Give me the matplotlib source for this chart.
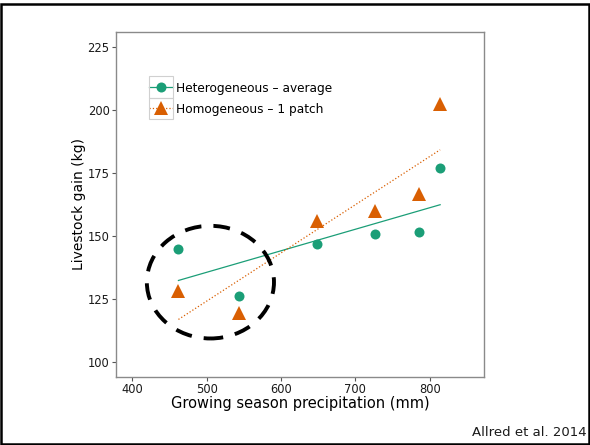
import numpy as np
import matplotlib.pyplot as plt
from matplotlib.lines import Line2D
from matplotlib.patches import Ellipse, Rectangle

plt.rcParams['font.family'] = ['DejaVu Sans']

precip = [462, 544, 648, 726, 786, 814]
hetero_gain = [144.7, 126.2, 146.8, 150.6, 151.6, 177.1]
homo_gain = [128.2, 119.2, 155.8, 160.0, 166.6, 202.4]
labels = ['Heterogeneous \u2013 average', 'Homogeneous \u2013 1 patch']
x_ticks = [400, 500, 600, 700, 800]
y_ticks = [100, 125, 150, 175, 200, 225]

green = '#1b9e77'
orange = '#d95f02'

fig = plt.figure(figsize=(5.9, 4.45), dpi=100)
ax = fig.add_axes([116 / 590, 1 - 376.7 / 445, 368 / 590, 345 / 445])

x = np.array(precip, dtype=float)
xs = np.array([x.min(), x.max()])
for ys, col, ls in [(hetero_gain, green, '-'), (homo_gain, orange, ':')]:
    k, b = np.polyfit(x, ys, 1)
    ax.plot(xs, k * xs + b, color=col, lw=0.9, linestyle=ls, zorder=2)

ax.plot(precip, hetero_gain, 'o', color=green, ms=7.2, mew=0, zorder=3)
ax.plot(precip, homo_gain, '^', color=orange, ms=9.6, mew=0, zorder=3)

# dashed circle round the dry years
ax.add_patch(Ellipse((505, 131.6), 171, 44.8, fill=False, edgecolor='black',
                     lw=2.8, linestyle=(1, (4.3, 3.1)), zorder=4))

ax.set_xlim(378, 873)
ax.set_ylim(94, 231.2)
ax.set_xticks(x_ticks)
ax.set_yticks(y_ticks)
ax.tick_params(direction='out', length=2.6, width=0.8, color='#555555',
               labelsize=8.3, labelcolor='#1a1a1a', pad=2)
for s in ax.spines.values():
    s.set_color('#8a8a8a')
    s.set_linewidth(1.0)

ax.set_xlabel('Growing season precipitation (mm)', fontsize=10.5)
ax.set_ylabel('Livestock gain (kg)', fontsize=10)
ax.xaxis.set_label_coords(0.5, -0.056)
ax.yaxis.set_label_coords(-0.082, 0.5)

handles = [Line2D([], [], color=green, lw=0.9, ls='-', marker='o', ms=7.2, mew=0),
           Line2D([], [], color=orange, lw=0.9, ls=':', marker='^', ms=9.6, mew=0)]
ax.legend(handles, labels, loc='upper left', bbox_to_anchor=(0.0905, 0.855),
          frameon=False, fontsize=8.7, handlelength=1.93, handletextpad=0.27,
          labelspacing=0.66, borderpad=0, borderaxespad=0)
for top in [76, 97.7]:
    fig.add_artist(Rectangle((149.3 / 590, 1 - (top + 21.6) / 445), 23.4 / 590, 21.6 / 445,
                             transform=fig.transFigure, fill=False,
                             edgecolor='#d0d0d0', lw=0.8))

fig.text(587 / 590, 1 - 433 / 445, 'Allred et al. 2014', ha='right', va='center',
         fontsize=9.5, color='#1a1a1a')

# black frame round the whole picture
fig.add_artist(Rectangle((1 / 590, 1.5 / 445), 587.5 / 590, 439.5 / 445,
                         transform=fig.transFigure, fill=False,
                         edgecolor='black', lw=1.8))

fig.savefig('out.png', dpi=100)
